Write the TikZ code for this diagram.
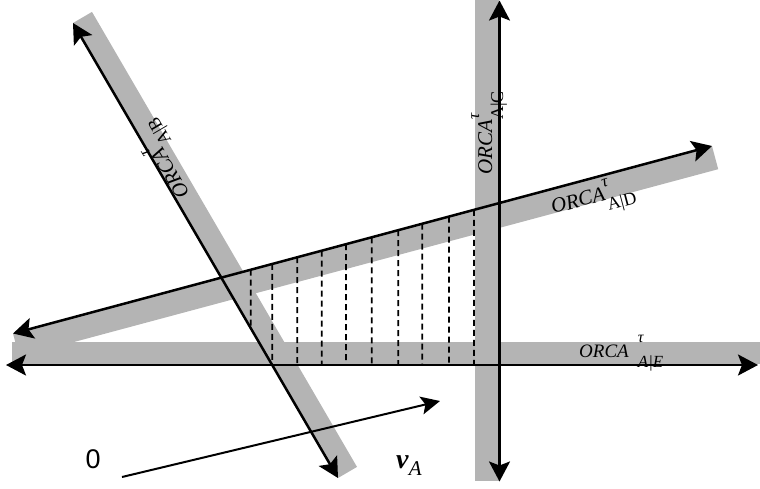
\documentclass[tikz,border=0pt]{standalone}
\usepackage{fontspec}
\setmainfont{Liberation Serif}
\newfontfamily\sansf{Liberation Sans}
\usetikzlibrary{arrows.meta,calc}
\definecolor{bandgray}{RGB}{180,180,180}
% #1 subscript, #2 tau size, #3 gap, #4 subscript size, #5 raise, #6 lower
\newcommand{\orcalab}[6]{\textit{ORCA}\hspace{#3}\makebox[0pt][l]{\raisebox{#5}{\fontsize{#2}{#2}\selectfont\textit{τ}}}\raisebox{-#6}{\fontsize{#4}{#4}\selectfont #1}}
\begin{document}
\begin{tikzpicture}[x=1pt,y=-1pt,
  band/.style={fill=bandgray, draw=none},
  axis/.style={line width=2.5pt, {Stealth[length=20pt,width=21pt,inset=4pt]}-{Stealth[length=20pt,width=21pt,inset=4pt]}},
  vec/.style={line width=2pt, -{Stealth[length=19pt,width=18pt,inset=4pt]}},
  dashline/.style={line width=1.8pt, dash pattern=on 6pt off 4pt},
  lab/.style={inner sep=0pt, font=\fontsize{21}{21}\selectfont}]
\useasboundingbox (0,0) rectangle (760,488);
% end points
\coordinate (b1) at (73,23);   \coordinate (b2) at (338,478);
\coordinate (c1) at (499.5,0.5); \coordinate (c2) at (499.5,481.5);
\coordinate (d1) at (13,333.5); \coordinate (d2) at (712,146);
\coordinate (e1) at (6,365);   \coordinate (e2) at (758,365);
\coordinate (o) at (122,477);  \coordinate (va) at (440,401);
% gray bands
\fill[band] (73,23) -- (92,11.9) -- (357,466.9) -- (338,478) -- cycle;
\fill[band] (475,0) rectangle (498.5,481);
\fill[band] (13,333.5) -- (712,146) -- (718.2,169.2) -- (19.2,356.7) -- cycle;
\fill[band] (12,341.5) rectangle (760,364);
% dashed verticals
\draw[dashline] ($(d1)!{(250.7-13)/699}!(d2)$) -- ($(b1)!{(250.7-73)/265}!(b2)$);
\foreach \x in {272.3,297.3,321.7,346,371.7,398.3,422.3,449,474}
  \draw[dashline] ($(d1)!{(\x-13)/699}!(d2)$) -- (\x,365);
% lines
\draw[axis] (b1) -- (b2);
\draw[axis] (c1) -- (c2);
\draw[axis] (d1) -- (d2);
\draw[axis] (e1) -- (e2);
\draw[vec] (o) -- (va);
% labels
\node[lab, rotate=120.5, anchor=base west] (lb) at (190,194) {\orcalab{A|B}{17}{0pt}{18}{13pt}{11pt}};
\node[lab, rotate=90, anchor=base west] (lc) at (492,175) {\orcalab{A|C}{17}{0pt}{18}{13pt}{11pt}};
\node[lab, rotate=15, anchor=base west] (ld) at (553,214) {\orcalab{A|D}{17}{0pt}{18}{13pt}{11pt}};
\node[lab, anchor=base west, font=\fontsize{19}{19}\selectfont] (le) at (579,357) {\orcalab{\textit{A|E}}{16}{9pt}{17}{15pt}{10pt}};
\node[inner sep=0pt, anchor=base west, font=\sansf\fontsize{27}{27}\selectfont] (zero) at (85.5,468) {0};
\node[inner sep=0pt, anchor=base west] (vlab) at (396,468) {\fontsize{28}{28}\selectfont\textbf{\textit{v}}\raisebox{-0.25em}{\fontsize{21}{21}\selectfont\textit{A}}};
\end{tikzpicture}
\end{document}
